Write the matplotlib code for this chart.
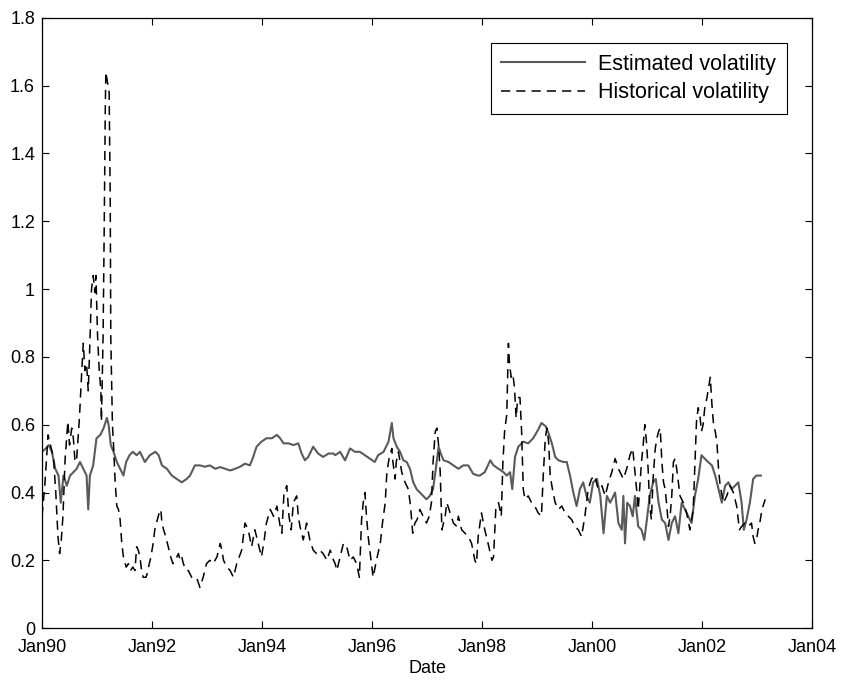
#!/usr/bin/env python3

import matplotlib
matplotlib.use('Agg')
import matplotlib.pyplot as plt

# time in years since Jan 1990
hist_t = [0.00, 0.05, 0.11, 0.14, 0.21, 0.25, 0.29, 0.32, 0.35, 0.38, 0.42, 0.47, 0.50, 0.54,
          0.57, 0.60, 0.63, 0.68, 0.72, 0.75, 0.78, 0.81, 0.84, 0.87, 0.90, 0.93, 0.96, 0.98,
          1.01, 1.04, 1.07, 1.08, 1.11, 1.13, 1.15, 1.16, 1.19, 1.22, 1.24, 1.25, 1.28, 1.30,
          1.33, 1.36, 1.39, 1.42, 1.45, 1.48, 1.53, 1.57, 1.61, 1.65, 1.69, 1.72, 1.75, 1.78,
          1.81, 1.84, 1.89, 1.91, 1.95, 1.98, 2.02, 2.05, 2.08, 2.13, 2.16, 2.18, 2.21, 2.25,
          2.28, 2.31, 2.34, 2.38, 2.42, 2.45, 2.48, 2.51, 2.54, 2.57, 2.62, 2.66, 2.72, 2.81,
          2.87, 2.93, 2.99, 3.05, 3.11, 3.18, 3.24, 3.27, 3.30, 3.36, 3.42, 3.48, 3.54, 3.63,
          3.69, 3.75, 3.81, 3.87, 3.93, 3.99, 4.04, 4.08, 4.15, 4.21, 4.27, 4.33, 4.36, 4.40,
          4.45, 4.49, 4.53, 4.57, 4.63, 4.66, 4.69, 4.75, 4.81, 4.87, 4.93, 4.99, 5.05, 5.11,
          5.18, 5.24, 5.30, 5.33, 5.36, 5.42, 5.48, 5.54, 5.60, 5.66, 5.72, 5.77, 5.81, 5.84,
          5.87, 5.90, 5.93, 5.96, 5.99, 6.02, 6.08, 6.15, 6.19, 6.24, 6.27, 6.31, 6.36, 6.38,
          6.42, 6.44, 6.48, 6.51, 6.54, 6.60, 6.66, 6.70, 6.74, 6.78, 6.82, 6.87, 6.93, 6.99,
          7.04, 7.08, 7.11, 7.15, 7.18, 7.21, 7.24, 7.27, 7.33, 7.36, 7.42, 7.48, 7.54, 7.57,
          7.63, 7.69, 7.75, 7.81, 7.87, 7.90, 7.93, 7.99, 8.05, 8.11, 8.18, 8.21, 8.25, 8.30,
          8.35, 8.38, 8.41, 8.45, 8.48, 8.50, 8.53, 8.56, 8.59, 8.62, 8.65, 8.69, 8.72, 8.75,
          8.78, 8.84, 8.90, 8.96, 9.02, 9.08, 9.11, 9.15, 9.18, 9.21, 9.24, 9.28, 9.33, 9.39,
          9.45, 9.51, 9.57, 9.63, 9.69, 9.75, 9.81, 9.87, 9.93, 9.99, 10.05, 10.11, 10.18, 10.24,
          10.30, 10.36, 10.42, 10.48, 10.54, 10.57, 10.63, 10.69, 10.74, 10.78, 10.81, 10.84, 10.87, 10.90,
          10.93, 10.96, 10.99, 11.02, 11.05, 11.08, 11.11, 11.15, 11.18, 11.21, 11.24, 11.27, 11.30, 11.33,
          11.36, 11.39, 11.42, 11.45, 11.48, 11.51, 11.54, 11.57, 11.60, 11.66, 11.72, 11.78, 11.84, 11.90,
          11.93, 11.96, 11.99, 12.02, 12.05, 12.09, 12.11, 12.15, 12.18, 12.21, 12.24, 12.27, 12.30, 12.33,
          12.39, 12.45, 12.51, 12.57, 12.63, 12.68, 12.72, 12.78, 12.84, 12.90, 12.93, 12.96, 12.99, 13.02,
          13.05, 13.09, 13.11, 13.15]
hist_v = [0.33, 0.42, 0.57, 0.55, 0.50, 0.40, 0.27, 0.22, 0.26, 0.33, 0.50, 0.61, 0.54, 0.59,
          0.56, 0.49, 0.50, 0.62, 0.75, 0.84, 0.76, 0.78, 0.70, 0.84, 1.00, 1.04, 0.99, 1.04,
          0.86, 0.76, 0.70, 0.61, 0.86, 1.17, 1.53, 1.64, 1.61, 1.58, 1.27, 0.86, 0.60, 0.54,
          0.43, 0.36, 0.35, 0.32, 0.25, 0.21, 0.18, 0.19, 0.17, 0.18, 0.17, 0.24, 0.23, 0.21,
          0.17, 0.15, 0.15, 0.16, 0.19, 0.21, 0.25, 0.29, 0.31, 0.34, 0.35, 0.31, 0.29, 0.27,
          0.25, 0.23, 0.21, 0.19, 0.20, 0.21, 0.22, 0.20, 0.21, 0.19, 0.17, 0.17, 0.15, 0.15,
          0.12, 0.15, 0.19, 0.20, 0.19, 0.21, 0.25, 0.23, 0.20, 0.18, 0.17, 0.15, 0.19, 0.23,
          0.31, 0.29, 0.24, 0.29, 0.25, 0.21, 0.26, 0.31, 0.35, 0.33, 0.36, 0.30, 0.28, 0.40,
          0.42, 0.33, 0.29, 0.37, 0.39, 0.33, 0.30, 0.26, 0.31, 0.26, 0.23, 0.22, 0.23, 0.22,
          0.20, 0.23, 0.20, 0.19, 0.17, 0.21, 0.25, 0.24, 0.20, 0.21, 0.19, 0.15, 0.32, 0.37,
          0.40, 0.33, 0.27, 0.23, 0.19, 0.15, 0.20, 0.25, 0.31, 0.37, 0.46, 0.50, 0.53, 0.49,
          0.44, 0.49, 0.52, 0.49, 0.46, 0.43, 0.41, 0.36, 0.28, 0.31, 0.32, 0.35, 0.33, 0.31,
          0.33, 0.37, 0.49, 0.58, 0.59, 0.54, 0.46, 0.29, 0.33, 0.37, 0.34, 0.31, 0.30, 0.33,
          0.29, 0.28, 0.27, 0.25, 0.20, 0.19, 0.27, 0.34, 0.29, 0.25, 0.20, 0.21, 0.35, 0.37,
          0.33, 0.49, 0.58, 0.63, 0.84, 0.78, 0.74, 0.75, 0.71, 0.62, 0.68, 0.68, 0.58, 0.41,
          0.38, 0.39, 0.37, 0.36, 0.34, 0.33, 0.44, 0.56, 0.59, 0.55, 0.45, 0.41, 0.37, 0.35,
          0.36, 0.34, 0.33, 0.32, 0.30, 0.29, 0.27, 0.33, 0.41, 0.44, 0.45, 0.41, 0.42, 0.39,
          0.43, 0.46, 0.50, 0.47, 0.45, 0.44, 0.47, 0.51, 0.53, 0.46, 0.41, 0.35, 0.42, 0.49,
          0.54, 0.60, 0.55, 0.47, 0.36, 0.32, 0.44, 0.53, 0.56, 0.58, 0.59, 0.49, 0.43, 0.41,
          0.36, 0.30, 0.33, 0.39, 0.49, 0.50, 0.47, 0.43, 0.39, 0.37, 0.34, 0.29, 0.35, 0.61,
          0.65, 0.63, 0.58, 0.60, 0.65, 0.68, 0.70, 0.74, 0.66, 0.60, 0.58, 0.55, 0.47, 0.42,
          0.37, 0.39, 0.42, 0.40, 0.36, 0.29, 0.30, 0.31, 0.30, 0.31, 0.27, 0.25, 0.26, 0.29,
          0.31, 0.35, 0.36, 0.38]

est_t = [0.00, 0.07, 0.12, 0.18, 0.24, 0.30, 0.34, 0.39, 0.45, 0.51, 0.57, 0.63, 0.69, 0.75,
         0.81, 0.84, 0.87, 0.93, 0.99, 1.06, 1.12, 1.18, 1.21, 1.25, 1.30, 1.36, 1.42, 1.48,
         1.53, 1.59, 1.65, 1.72, 1.78, 1.87, 1.96, 2.06, 2.12, 2.18, 2.27, 2.36, 2.45, 2.54,
         2.63, 2.69, 2.78, 2.87, 2.96, 3.05, 3.15, 3.24, 3.33, 3.42, 3.51, 3.60, 3.69, 3.78,
         3.84, 3.90, 3.99, 4.08, 4.18, 4.27, 4.33, 4.39, 4.48, 4.57, 4.66, 4.72, 4.78, 4.84,
         4.93, 5.02, 5.11, 5.21, 5.30, 5.33, 5.42, 5.51, 5.60, 5.69, 5.78, 5.87, 5.96, 6.05,
         6.11, 6.21, 6.30, 6.36, 6.39, 6.45, 6.51, 6.57, 6.63, 6.69, 6.75, 6.81, 6.87, 6.93,
         6.99, 7.05, 7.11, 7.16, 7.21, 7.25, 7.30, 7.39, 7.48, 7.57, 7.66, 7.75, 7.84, 7.93,
         7.96, 8.05, 8.15, 8.21, 8.30, 8.39, 8.45, 8.51, 8.55, 8.60, 8.66, 8.75, 8.84, 8.93,
         9.02, 9.08, 9.16, 9.21, 9.27, 9.33, 9.39, 9.48, 9.54, 9.60, 9.66, 9.72, 9.78, 9.84,
         9.90, 9.96, 10.02, 10.09, 10.15, 10.21, 10.27, 10.33, 10.42, 10.48, 10.54, 10.57, 10.60, 10.64,
         10.69, 10.74, 10.78, 10.84, 10.90, 10.95, 10.99, 11.05, 11.11, 11.16, 11.21, 11.27, 11.33, 11.39,
         11.45, 11.51, 11.57, 11.63, 11.69, 11.75, 11.81, 11.87, 11.93, 11.99, 12.05, 12.11, 12.18, 12.24,
         12.30, 12.36, 12.42, 12.48, 12.54, 12.60, 12.66, 12.72, 12.76, 12.81, 12.87, 12.93, 12.99, 13.07]
est_v = [0.52, 0.53, 0.54, 0.52, 0.47, 0.45, 0.37, 0.45, 0.42, 0.45, 0.46, 0.47, 0.49, 0.47,
         0.45, 0.35, 0.45, 0.48, 0.56, 0.57, 0.59, 0.62, 0.60, 0.54, 0.52, 0.49, 0.47, 0.45,
         0.49, 0.51, 0.52, 0.51, 0.52, 0.49, 0.51, 0.52, 0.51, 0.48, 0.47, 0.45, 0.44, 0.43,
         0.44, 0.45, 0.48, 0.48, 0.476, 0.48, 0.47, 0.475, 0.47, 0.465, 0.47, 0.476, 0.485, 0.48,
         0.505, 0.535, 0.55, 0.56, 0.56, 0.57, 0.56, 0.545, 0.545, 0.54, 0.545, 0.515, 0.495, 0.505,
         0.535, 0.515, 0.505, 0.515, 0.515, 0.51, 0.52, 0.495, 0.53, 0.52, 0.52, 0.51, 0.50, 0.49,
         0.51, 0.52, 0.55, 0.605, 0.56, 0.535, 0.52, 0.495, 0.49, 0.47, 0.43, 0.41, 0.40, 0.39,
         0.38, 0.39, 0.41, 0.47, 0.535, 0.515, 0.495, 0.49, 0.48, 0.47, 0.48, 0.48, 0.455, 0.45,
         0.45, 0.46, 0.495, 0.48, 0.47, 0.46, 0.45, 0.46, 0.41, 0.505, 0.535, 0.55, 0.545, 0.56,
         0.585, 0.605, 0.595, 0.575, 0.545, 0.505, 0.495, 0.49, 0.49, 0.45, 0.40, 0.36, 0.41, 0.43,
         0.39, 0.37, 0.43, 0.44, 0.39, 0.28, 0.39, 0.37, 0.40, 0.31, 0.29, 0.39, 0.25, 0.37,
         0.36, 0.33, 0.39, 0.30, 0.29, 0.26, 0.31, 0.39, 0.43, 0.44, 0.37, 0.32, 0.31, 0.26,
         0.31, 0.33, 0.28, 0.37, 0.35, 0.33, 0.31, 0.39, 0.44, 0.51, 0.50, 0.49, 0.48, 0.45,
         0.41, 0.37, 0.42, 0.43, 0.41, 0.42, 0.43, 0.37, 0.29, 0.32, 0.37, 0.44, 0.45, 0.45]

year_ticks = [0, 2, 4, 6, 8, 10, 12, 14]
year_labels = ['Jan90', 'Jan92', 'Jan94', 'Jan96', 'Jan98', 'Jan00', 'Jan02', 'Jan04']
y_ticks = [0, 0.2, 0.4, 0.6, 0.8, 1.0, 1.2, 1.4, 1.6, 1.8]
y_labels = ['0', '0.2', '0.4', '0.6', '0.8', '1', '1.2', '1.4', '1.6', '1.8']

plt.rcParams['font.family'] = ['Liberation Sans', 'DejaVu Sans']

fig = plt.figure(figsize=(8.44, 6.85), dpi=100)
ax = fig.add_axes([0.0498, 0.083, 0.9123, 0.891])

ax.plot(est_t, est_v, color='#5a5a5a', linewidth=1.5, label='Estimated volatility')
ax.plot(hist_t, hist_v, color='black', linewidth=1.1, dashes=(6, 4),
        label='Historical volatility')

ax.set_xlim(0, 14)
ax.set_ylim(0, 1.8)
ax.set_xticks(year_ticks)
ax.set_xticklabels(year_labels)
ax.set_yticks(y_ticks)
ax.set_yticklabels(y_labels)
ax.tick_params(direction='in', top=True, right=True, length=5, width=0.8, labelsize=13)
ax.tick_params(axis='x', pad=7.5)
ax.tick_params(axis='y', pad=5)
for s in ax.spines.values():
    s.set_linewidth(0.9)
ax.set_xlabel('Date', fontsize=13, labelpad=3)

leg = ax.legend(loc='upper right', bbox_to_anchor=(0.9675, 0.959), borderaxespad=0,
                fontsize=15.5, fancybox=False, framealpha=1, edgecolor='black',
                handlelength=3.9, handletextpad=0.6, borderpad=0.5, labelspacing=0.35)
leg.get_frame().set_linewidth(0.8)

fig.savefig('out.png', dpi=100)
